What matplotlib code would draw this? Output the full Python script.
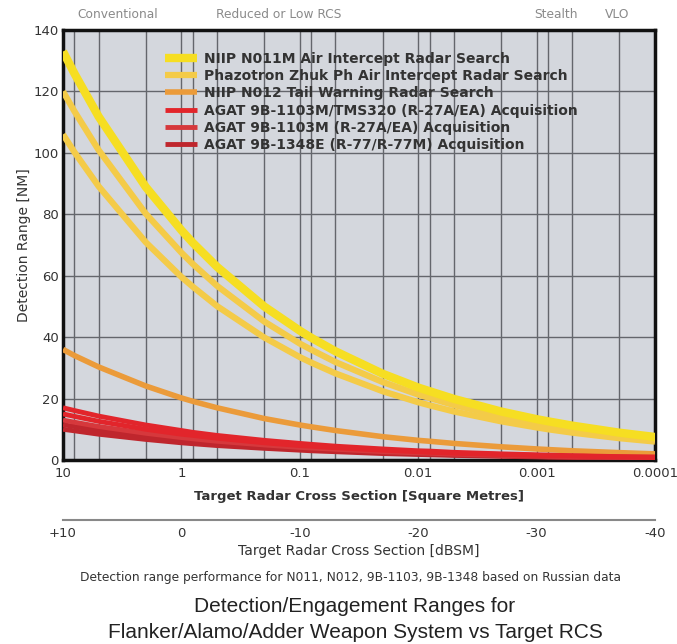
import numpy as np
import matplotlib
matplotlib.use("Agg")
import matplotlib.pyplot as plt
from matplotlib.ticker import FixedLocator, NullFormatter

plt.rcParams['font.family'] = ['DejaVu Sans']

# ---------------- data ----------------
rcs = [10, 8, 5, 2, 1, 0.8, 0.5, 0.2, 0.1, 0.08, 0.05, 0.02, 0.01,
       0.008, 0.005, 0.002, 0.001, 0.0008, 0.0005, 0.0002, 0.0001]

n011m = [133, 125.8, 111.8, 88.9, 74.8, 70.7, 62.9, 50.0, 42.1, 39.8, 35.4,
         28.1, 23.6, 22.4, 19.9, 15.8, 13.3, 12.6, 11.2, 8.9, 7.5]
zhuk_a = [120, 113.5, 100.9, 80.2, 67.5, 63.8, 56.7, 45.1, 37.9, 35.9, 31.9,
          25.4, 21.3, 20.2, 17.9, 14.3, 12.0, 11.4, 10.1, 8.0, 6.7]
zhuk_b = [106, 100.2, 89.1, 70.9, 59.6, 56.4, 50.1, 39.9, 33.5, 31.7, 28.2,
          22.4, 18.8, 17.8, 15.8, 12.6, 10.6, 10.0, 8.9, 7.1, 6.0]
n012 = [36, 34.0, 30.3, 24.1, 20.2, 19.1, 17.0, 13.5, 11.4, 10.8, 9.6,
        7.6, 6.4, 6.1, 5.4, 4.3, 3.6, 3.4, 3.0, 2.4, 2.0]
agat_tms_a = [17, 16.1, 14.3, 11.4, 9.6, 9.0, 8.0, 6.4, 5.4, 5.1, 4.5,
              3.6, 3.0, 2.9, 2.5, 2.0, 1.7, 1.6, 1.4, 1.1, 1.0]
agat_tms_b = [15, 14.2, 12.6, 10.0, 8.4, 8.0, 7.1, 5.6, 4.7, 4.5, 4.0,
              3.2, 2.7, 2.5, 2.2, 1.8, 1.5, 1.4, 1.3, 1.0, 0.8]
agat_1103 = [13, 12.3, 10.9, 8.7, 7.3, 6.9, 6.1, 4.9, 4.1, 3.9, 3.5,
             2.7, 2.3, 2.2, 1.9, 1.5, 1.3, 1.2, 1.1, 0.9, 0.7]
agat_1348_a = [11.5, 10.9, 9.7, 7.7, 6.5, 6.1, 5.4, 4.3, 3.6, 3.4, 3.1,
               2.4, 2.0, 1.9, 1.7, 1.4, 1.2, 1.1, 1.0, 0.8, 0.6]
agat_1348_b = [10, 9.5, 8.4, 6.7, 5.6, 5.3, 4.7, 3.8, 3.2, 3.0, 2.7,
               2.1, 1.8, 1.7, 1.5, 1.2, 1.0, 0.9, 0.8, 0.7, 0.6]

labels = ["NIIP N011M Air Intercept Radar Search",
          "Phazotron Zhuk Ph Air Intercept Radar Search",
          "NIIP N012 Tail Warning Radar Search",
          "AGAT 9B-1103M/TMS320 (R-27A/EA) Acquisition",
          "AGAT 9B-1103M (R-27A/EA) Acquisition",
          "AGAT 9B-1348E (R-77/R-77M) Acquisition"]

x_ticks = [10, 1, 0.1, 0.01, 0.001, 0.0001]
x_ticklabels = ["10", "1", "0.1", "0.01", "0.001", "0.0001"]
db_ticks = [10, 0, -10, -20, -30, -40]
db_ticklabels = ["+10", "0", "-10", "-20", "-30", "-40"]
y_ticks = [0, 20, 40, 60, 80, 100, 120, 140]
zones = ["Conventional", "Reduced or Low RCS", "Stealth", "VLO"]

# ---------------- figure ----------------
W, H = 677, 644
fig = plt.figure(figsize=(W / 100, H / 100), dpi=100)
fig.patch.set_facecolor("white")
ax = fig.add_axes([63 / W, (H - 460) / H, 592 / W, 430 / H])
ax.set_facecolor("#d4d7dd")

ax.set_xscale("log")
ax.set_xlim(10, 0.0001)
ax.set_ylim(0, 140)

c_y1 = "#f6de22"
c_y2 = "#f4cb48"
c_or = "#eb9b3a"
c_r1 = "#e2252b"
c_r2 = "#d6383c"
c_r3 = "#bf262d"

ax.plot(rcs, zhuk_b, color=c_y2, lw=4.5, solid_capstyle="butt", zorder=3)
ax.plot(rcs, zhuk_a, color=c_y2, lw=4.5, solid_capstyle="butt", zorder=3, label=labels[1])
ax.plot(rcs, n011m, color=c_y1, lw=6, solid_capstyle="butt", zorder=4, label=labels[0])
ax.plot(rcs, n012, color=c_or, lw=4, solid_capstyle="butt", zorder=3, label=labels[2])
ax.plot(rcs, agat_1348_b, color=c_r3, lw=3.5, solid_capstyle="butt", zorder=5)
ax.plot(rcs, agat_1348_a, color=c_r3, lw=3.5, solid_capstyle="butt", zorder=5, label=labels[5])
ax.plot(rcs, agat_1103, color=c_r2, lw=3.5, solid_capstyle="butt", zorder=5, label=labels[4])
ax.plot(rcs, agat_tms_b, color=c_r1, lw=3.5, solid_capstyle="butt", zorder=5)
ax.plot(rcs, agat_tms_a, color=c_r1, lw=3.5, solid_capstyle="butt", zorder=5, label=labels[3])

# grid
minor = [m * 10.0 ** e for e in range(-4, 1) for m in (2, 5, 8)]
ax.xaxis.set_major_locator(FixedLocator(x_ticks))
ax.xaxis.set_minor_locator(FixedLocator(minor))
ax.xaxis.set_minor_formatter(NullFormatter())
ax.set_xticklabels(x_ticklabels)
ax.set_yticks(y_ticks)
ax.grid(True, which="both", color="#64666c", lw=1.0, zorder=1)
ax.set_axisbelow(True)
ax.tick_params(which="both", length=0, labelsize=9.5, labelcolor="#333333")
ax.tick_params(axis="x", pad=5)
ax.tick_params(axis="y", pad=3)
for s in ax.spines.values():
    s.set_linewidth(2.5)
    s.set_color("#111111")

ax.set_ylabel("Detection Range [NM]", fontsize=10, color="#333333", labelpad=2)
ax.set_xlabel("Target Radar Cross Section [Square Metres]", fontsize=9.5,
              fontweight="bold", color="#333333", labelpad=7)

# legend
h, l = ax.get_legend_handles_labels()
order = [labels.index(x) for x in l]
pairs = sorted(zip(order, h, l))
leg = ax.legend([p[1] for p in pairs], [p[2] for p in pairs], loc="upper left",
                bbox_to_anchor=(0.16, 0.966), frameon=False, borderpad=0,
                handlelength=2.3, handletextpad=0.5, labelspacing=0.24,
                prop={"size": 10, "weight": "bold"})
for t in leg.get_texts():
    t.set_color("#333333")

# secondary dBSM axis (separate axes, linear in dB)
ax2 = fig.add_axes([63 / W, (H - 520) / H, 592 / W, 0.0001])
ax2.set_xlim(10, -40)
ax2.set_ylim(0, 1)
ax2.patch.set_visible(False)
for k in ("top", "left", "right"):
    ax2.spines[k].set_visible(False)
ax2.spines["bottom"].set_color("#888888")
ax2.spines["bottom"].set_linewidth(1.5)
ax2.set_yticks([])
ax2.set_xticks(db_ticks)
ax2.set_xticklabels(db_ticklabels)
ax2.tick_params(length=0, labelsize=9.5, labelcolor="#333333", pad=5)
ax2.set_xlabel("Target Radar Cross Section [dBSM]", fontsize=10,
               color="#333333", labelpad=3)

# zone labels
zx = [118, 279, 556, 617]
for name, x in zip(zones, zx):
    fig.text(x / W, 1 - 15 / H, name, ha="center", va="center",
             fontsize=8.8, color="#8a8a8a")

fig.text(351 / W, 1 - 577 / H,
         "Detection range performance for N011, N012, 9B-1103, 9B-1348 based on Russian data",
         ha="center", va="center", fontsize=8.8, color="#333333")
fig.text(355 / W, 1 - 606 / H, "Detection/Engagement Ranges for",
         ha="center", va="center", fontsize=15, color="#222222",
         family="Liberation Sans")
fig.text(355 / W, 1 - 632 / H, "Flanker/Alamo/Adder Weapon System vs Target RCS",
         ha="center", va="center", fontsize=15, color="#222222",
         family="Liberation Sans")

fig.savefig("out.png", dpi=100)
